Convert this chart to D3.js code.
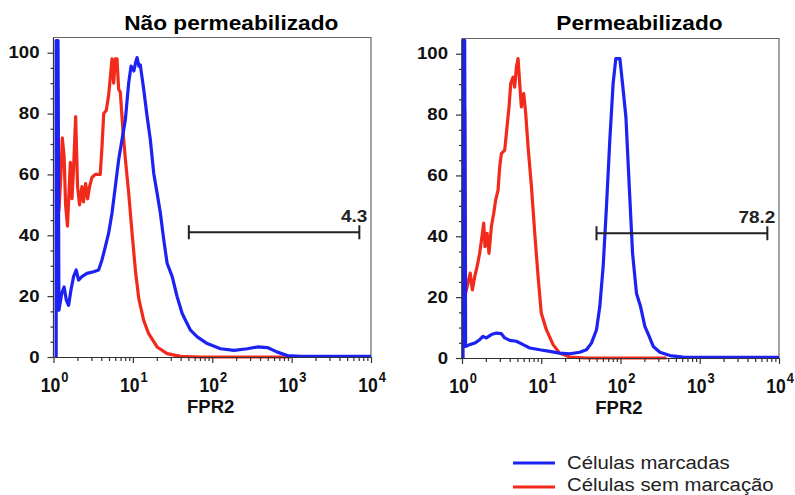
<!DOCTYPE html>
<html>
<head>
<meta charset="utf-8">
<script src="https://cdn.jsdelivr.net/npm/d3@7"></script>
<style>
  body { margin: 0; background: #fff; }
  svg { display: block; font-family: "Liberation Sans", Arial, sans-serif; }
</style>
</head>
<body>
<div id="chart"></div>
<script>
// ---- data (FPR2 intensity, % of max) ----
const panelTitles = ["Não permeabilizado", "Permeabilizado"];
const gateLabels = ["4.3", "78.2"];
const gateRanges = [[50.7, 7130], [49.8, 7130]];
const gateLevels = [41, 41];

const yTicks = [0, 20, 40, 60, 80, 100];
const yMinorTicks = [5, 10, 15, 25, 30, 35, 45, 50, 55, 65, 70, 75, 85, 90, 95];
const xTickExps = [0, 1, 2, 3, 4];

const legendLabels = ["Células marcadas", "Células sem marcação"];

// left panel, unstained (red)
const npRedX = [1.12, 1.17, 1.24, 1.29, 1.36, 1.42, 1.50, 1.63, 1.71, 1.79, 1.90, 2.01, 2.13, 2.28, 2.39, 2.54, 2.69, 2.85, 3.05, 3.36, 3.88, 4.08, 4.29, 4.62, 4.95, 5.20, 5.46, 5.73, 6.01, 6.31, 6.62, 6.95, 7.52, 8.04, 8.85, 9.75, 10.8, 11.9, 13.7, 15.8, 20.2, 27.0, 39.8, 70.8, 977];
const npRedY = [90, 48, 60, 72, 66, 50, 43, 64, 52, 62, 79, 56, 50, 56, 51, 57, 52, 56, 59, 60, 60, 69, 80, 81, 86, 92, 98, 90, 98, 98, 88, 87, 74, 65, 54, 41, 28, 19, 12, 7.7, 3.3, 1.1, 0.2, 0, 0];

// left panel, stained (blue)
const npBlueX = [1.08, 1.08, 1.14, 1.17, 1.27, 1.36, 1.45, 1.55, 1.66, 1.79, 1.93, 2.07, 2.28, 2.64, 3.20, 3.70, 4.08, 4.50, 4.95, 5.46, 6.01, 6.62, 7.29, 8.04, 8.85, 9.48, 10.3, 10.8, 11.3, 11.9, 12.4, 13.7, 15.1, 16.6, 18.3, 20.2, 22.2, 24.5, 27.0, 31.3, 36.1, 41.8, 46.0, 53.2, 64.7, 86.5, 127, 188, 277, 370, 495, 662, 885, 1306, 10000];
const npBlueY = [0, 104, 104, 15.4, 20.9, 23, 18.7, 17, 22, 26.4, 28.6, 25.3, 26.4, 27.5, 28, 28.6, 31.9, 36.3, 40.7, 47.3, 56, 64.8, 71.4, 78, 90, 95.6, 94, 96.7, 98.4, 95.6, 96, 87.9, 79.1, 71.4, 60.4, 53.8, 47.3, 38.5, 30.8, 26.4, 19.8, 14.3, 12.1, 8.8, 6.6, 4.4, 2.7, 2.2, 2.7, 3.3, 3.1, 1.6, 0.5, 0.2, 0.2];

// right panel, unstained (red)
const pRedX = [1.08, 1.11, 1.19, 1.27, 1.35, 1.45, 1.55, 1.67, 1.81, 1.88, 1.95, 2.07, 2.19, 2.35, 2.51, 2.66, 2.85, 2.99, 3.14, 3.46, 3.70, 3.92, 4.12, 4.41, 4.62, 4.86, 5.10, 5.35, 5.61, 6.01, 6.37, 6.82, 7.52, 8.28, 9.12, 10.0, 11.6, 14.1, 17.1, 22.9, 37.2, 381];
const pRedY = [81.4, 21.3, 24.6, 27.9, 22.4, 26.8, 30, 34.4, 41, 44.3, 36.6, 41, 34.4, 43.2, 47.5, 51.9, 55.2, 62.8, 67.2, 68.3, 76, 82.5, 90.2, 92.3, 89, 95.6, 98.4, 90.2, 82.5, 86.9, 80.3, 69.4, 56.3, 41, 26.8, 14.8, 9.3, 4.4, 1.6, 0.3, 0, 0];

// right panel, stained (blue)
const pBlueX = [1.03, 1.03, 1.08, 1.11, 1.25, 1.45, 1.67, 1.84, 2.03, 2.35, 2.71, 3.14, 3.46, 4.00, 4.86, 5.90, 7.16, 9.57, 12.8, 17.1, 22.9, 30.6, 37.2, 43.0, 49.8, 54.8, 60.4, 66.5, 73.3, 80.7, 87.3, 98.2, 106, 117, 129, 142, 159, 179, 203, 230, 259, 314, 420, 619, 10000];
const pBlueY = [0, 104.4, 104.4, 3.8, 4.4, 4.9, 6, 7.1, 6.6, 7.7, 8.2, 8, 6.6, 5.8, 5.5, 4.4, 3.3, 2.7, 2.2, 1.6, 1.4, 1.9, 2.7, 4.9, 9.3, 16.9, 30, 49.7, 71.6, 90.2, 98.4, 98.4, 90.2, 79.2, 56.3, 34.4, 21.3, 16.9, 10.4, 7.1, 3.8, 1.9, 0.8, 0.3, 0.2];

const panels = [
  {title: panelTitles[0], red: [npRedX, npRedY], blue: [npBlueX, npBlueY], gate: gateRanges[0], level: gateLevels[0], label: gateLabels[0]},
  {title: panelTitles[1], red: [pRedX, pRedY], blue: [pBlueX, pBlueY], gate: gateRanges[1], level: gateLevels[1], label: gateLabels[1]}
];

const blue = "#1c22f2", red = "#f22a1c", axisColor = "#333", frameColor = "#666";

const svg = d3.select("#chart").append("svg")
  .attr("width", 795)
  .attr("height", 495);

// pixel boxes for the two plots
const boxes = [
  {left: 53.5, right: 371, top: 37.5, bottom: 357},
  {left: 462, right: 779, top: 38.5, bottom: 358}
];

// helper: text that is a little wider than the installed Arial clone
function wideText(g, x, y, str, size, sx, anchor, weight) {
  return g.append("text")
    .attr("transform", `translate(${x},${y}) scale(${sx},1)`)
    .attr("text-anchor", anchor)
    .attr("font-size", size)
    .attr("font-weight", weight)
    .attr("fill", "#111")
    .text(str);
}

panels.forEach((p, i) => {
  const b = boxes[i];
  const x = d3.scaleLog().domain([1, 1e4]).range([b.left, b.right]);
  const y = d3.scaleLinear().domain([0, 105]).range([b.bottom, b.top]);

  const g = svg.append("g");

  // frame (top + right)
  g.append("path")
    .attr("d", `M${x(1)},${y(105)}H${x(1e4)}V${y(0)}`)
    .attr("fill", "none")
    .attr("stroke", frameColor)
    .attr("stroke-width", 1.2);

  // curves
  const line = d3.line()
    .x(d => x(d[0]))
    .y(d => y(d[1]));

  [[p.red, red], [p.blue, blue]].forEach(([s, c]) => {
    const pts = s[0].map((v, k) => [v, s[1][k]]);
    g.append("path")
      .datum(pts)
      .attr("fill", "none")
      .attr("stroke", c)
      .attr("stroke-width", 3.2)
      .attr("stroke-linejoin", "round")
      .attr("d", line);
  });

  // y axis
  const yAxis = g.append("g")
    .attr("transform", `translate(${x(1)},0)`)
    .call(d3.axisLeft(y).tickValues(yTicks).tickSize(6).tickSizeOuter(0).tickPadding(6.3));
  yAxis.select(".domain").attr("d", `M0,${y(0)}V${y(105)}`);
  g.append("g")
    .attr("transform", `translate(${x(1)},0)`)
    .call(d3.axisLeft(y).tickValues(yMinorTicks).tickSize(3).tickFormat(""))
    .select(".domain").remove();

  // x axis
  g.append("g")
    .attr("transform", `translate(0,${y(0)})`)
    .call(d3.axisBottom(x).tickValues(xTickExps.map(e => Math.pow(10, e))).tickSize(6).tickSizeOuter(0).tickFormat(""));
  const minor = [];
  for (let e = 0; e < 4; e++) for (let m = 2; m <= 9; m++) minor.push(m * Math.pow(10, e));
  g.append("g")
    .attr("transform", `translate(0,${y(0)})`)
    .call(d3.axisBottom(x).tickValues(minor).tickSize(4).tickFormat(""))
    .select(".domain").remove();

  g.selectAll(".tick line").attr("stroke", axisColor).attr("stroke-width", 1.2);
  g.selectAll(".domain").attr("stroke", axisColor).attr("stroke-width", 1.2);
  yAxis.selectAll("text")
    .attr("fill", "#111")
    .attr("font-size", 16.3)
    .attr("font-weight", "bold")
    .attr("font-family", "Liberation Sans, Arial, sans-serif")
    .attr("transform", "scale(1.14,1)");

  // x tick labels 10^n
  g.selectAll(".xlab")
    .data(xTickExps)
    .enter().append("text")
    .attr("class", "xlab")
    .attr("transform", e => `translate(${x(Math.pow(10, e)) + 1},${y(0) + 34.5}) scale(0.86,1)`)
    .attr("text-anchor", "middle")
    .attr("font-size", 20.5)
    .attr("font-weight", "bold")
    .attr("fill", "#111")
    .call(t => {
      t.append("tspan").text("10");
      t.append("tspan").attr("dy", -10).attr("dx", 1).attr("font-size", 15).text(e => e);
    });

  g.append("text")
    .attr("x", x(Math.pow(10, 1.98)))
    .attr("y", y(0) + 56)
    .attr("text-anchor", "middle")
    .attr("font-size", 18.5)
    .attr("font-weight", "bold")
    .attr("fill", "#111")
    .text("FPR2");

  // title
  wideText(g, (b.left + b.right) / 2 + 19, 30, p.title, 21, 1.08, "middle", "bold")
    .attr("fill", "#000");

  // gate marker
  const gy = y(p.level);
  g.append("path")
    .attr("d", `M${x(p.gate[0])},${gy - 7}V${gy + 7}M${x(p.gate[0])},${gy}H${x(p.gate[1])}M${x(p.gate[1])},${gy - 7}V${gy + 7}`)
    .attr("fill", "none")
    .attr("stroke", "#222")
    .attr("stroke-width", 2);
  wideText(g, x(p.gate[1]) + 8, gy - 10, p.label, 16.5, 1.15, "end", "bold")
    .attr("fill", "#222");
});

// legend
const legend = svg.append("g").attr("transform", "translate(513,463)");
legend.selectAll("g")
  .data(legendLabels)
  .enter().append("g")
  .attr("transform", (d, i) => `translate(0,${i * 24})`)
  .each(function(d, i) {
    const row = d3.select(this);
    row.append("line")
      .attr("x1", 0).attr("x2", 42)
      .attr("stroke", i === 0 ? blue : red)
      .attr("stroke-width", 3);
    wideText(row, 54, 5.5 - i * 1.5, d, 18, 1.13, "start", "normal")
      .attr("fill", "#222");
  });
</script>
</body>
</html>
